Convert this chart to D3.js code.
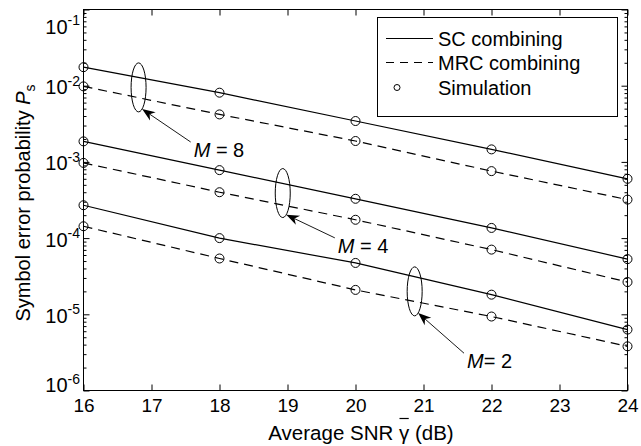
<!DOCTYPE html>
<html>
<head>
<meta charset="utf-8">
<script src="https://cdn.jsdelivr.net/npm/d3@7"></script>
<style>
  body { margin: 0; background: #fff; }
  svg { display: block; }
  text { font-family: "Liberation Sans", Arial, Helvetica, sans-serif; fill: #000; }
</style>
</head>
<body>
<div id="chart"></div>
<script>
// SNR points (dB)
const snr = [16, 18, 20, 22, 24];

// Symbol error probability
const scM8  = [1.75e-2, 8.1e-3, 3.44e-3, 1.46e-3, 6.0e-4];
const mrcM8 = [9.8e-3, 4.2e-3, 1.88e-3, 7.57e-4, 3.2e-4];
const scM4  = [1.86e-3, 7.8e-4, 3.28e-4, 1.36e-4, 5.3e-5];
const mrcM4 = [9.7e-4, 4.0e-4, 1.74e-4, 7.06e-5, 2.65e-5];
const scM2  = [2.7e-4, 1.0e-4, 4.72e-5, 1.81e-5, 6.3e-6];
const mrcM2 = [1.43e-4, 5.4e-5, 2.09e-5, 9.35e-6, 3.8e-6];

// axis ticks
const xTicks = [16, 17, 18, 19, 20, 21, 22, 23, 24];
const yDecades = [1e-6, 1e-5, 1e-4, 1e-3, 1e-2, 1e-1];
const yExponents = [-6, -5, -4, -3, -2, -1];

// legend entries
const legendLabels = ["SC combining", "MRC combining", "Simulation"];

// annotation labels: ellipse centre and label anchor in data units
const annLabels = ["8", "4", "2"];
const annEllipseX = [16.81, 18.93, 20.87];
const annEllipseY = [9.5e-3, 3.9e-4, 2.0e-5];
const annTextX = [17.62, 19.74, 21.64];
const annTextY = [1.16e-3, 6.4e-5, 1.96e-6];

const width = 641, height = 446;
const margin = { top: 9.5, right: 13.5, bottom: 55.5, left: 83.5 };

const svg = d3.select("#chart").append("svg")
    .attr("width", width)
    .attr("height", height);

const x = d3.scaleLinear()
    .domain([16, 24])
    .range([margin.left, width - margin.right]);

const y = d3.scaleLog()
    .domain([1e-6, 1e-1])
    .range([height - margin.bottom, margin.top]);

const x0 = x.range()[0], x1 = x.range()[1];
const yTop = y.range()[1], yBot = y.range()[0];

// minor log ticks (2..9 in each decade)
const minor = y.ticks().filter(t => !yDecades.some(d => Math.abs(d - t) / d < 1e-6));

// bottom axis with labels
svg.append("g")
    .attr("transform", `translate(0,${yBot})`)
    .call(d3.axisBottom(x).tickValues(xTicks).tickSize(-6).tickSizeOuter(0).tickPadding(8).tickFormat(d3.format("d")))
    .call(g => g.select(".domain").remove())
    .call(g => g.selectAll("line").attr("stroke", "#000"))
    .call(g => g.selectAll("text").style("font-size", "19px").attr("font-family", null));

// top axis ticks
svg.append("g")
    .attr("transform", `translate(0,${yTop})`)
    .call(d3.axisTop(x).tickValues(xTicks).tickSize(-6).tickSizeOuter(0).tickFormat(""))
    .call(g => g.select(".domain").remove())
    .call(g => g.selectAll("line").attr("stroke", "#000"));

// left / right ticks, major and minor
[[x0, d3.axisLeft], [x1, d3.axisRight]].forEach(([pos, axisFn]) => {
    svg.append("g")
        .attr("transform", `translate(${pos},0)`)
        .call(axisFn(y).tickValues(yDecades).tickSize(-6).tickSizeOuter(0).tickFormat(""))
        .call(g => g.select(".domain").remove())
        .call(g => g.selectAll("line").attr("stroke", "#000"));
    svg.append("g")
        .attr("transform", `translate(${pos},0)`)
        .call(axisFn(y).tickValues(minor).tickSize(-3).tickSizeOuter(0).tickFormat(""))
        .call(g => g.select(".domain").remove())
        .call(g => g.selectAll("line").attr("stroke", "#000"));
});

// y tick labels 10^n (end labels are pushed inside the axis range, like MATLAB)
yDecades.forEach((d, i) => {
    const cy = Math.min(Math.max(y(d) + 1.5, yTop + 17), yBot - 5.5);
    const t = svg.append("text")
        .attr("x", 80)
        .attr("y", cy + 7)
        .attr("text-anchor", "end")
        .style("font-size", "20px");
    t.append("tspan").text("10");
    t.append("tspan").attr("dy", -8.5).style("font-size", "14px").text(yExponents[i]);
});

// axes box
svg.append("rect")
    .attr("x", x0).attr("y", yTop)
    .attr("width", x1 - x0).attr("height", yBot - yTop)
    .attr("fill", "none").attr("stroke", "#000").attr("stroke-width", 1);

// curves
const line = d3.line()
    .x((d, i) => x(snr[i]))
    .y(d => y(d));

const series = [
    { values: scM8, dash: null },
    { values: mrcM8, dash: "9,6" },
    { values: scM4, dash: null },
    { values: mrcM4, dash: "9,6" },
    { values: scM2, dash: null },
    { values: mrcM2, dash: "9,6" }
];

series.forEach(s => {
    svg.append("path")
        .datum(s.values)
        .attr("fill", "none")
        .attr("stroke", "#000")
        .attr("stroke-width", 1.2)
        .attr("stroke-dasharray", s.dash)
        .attr("d", line);

    svg.selectAll(null)
        .data(s.values)
        .enter().append("circle")
        .attr("cx", (d, i) => x(snr[i]))
        .attr("cy", d => y(d))
        .attr("r", 4.5)
        .attr("fill", "none")
        .attr("stroke", "#000")
        .attr("stroke-width", 1);
});

// annotations: ellipse, arrow, M = k
const rx = 7.5, ry = 24.5;
annLabels.forEach((lab, i) => {
    const cx = x(annEllipseX[i]), cy = y(annEllipseY[i]);
    svg.append("ellipse")
        .attr("cx", cx).attr("cy", cy)
        .attr("rx", rx).attr("ry", ry)
        .attr("fill", "none").attr("stroke", "#000").attr("stroke-width", 1);

    const tx = x(annTextX[i]), ty = y(annTextY[i]);
    const ang = 62 * Math.PI / 180;
    const tip = [cx + rx * Math.cos(ang), cy + ry * Math.sin(ang)];
    const tail = [tx - 3, ty - 15];
    const dx = tip[0] - tail[0], dy = tip[1] - tail[1];
    const len = Math.hypot(dx, dy);
    const ux = dx / len, uy = dy / len;
    const px = -uy, py = ux;
    const hl = 13, hw = 5;
    const base = [tip[0] - ux * hl, tip[1] - uy * hl];
    const notch = [tip[0] - ux * hl * 0.7, tip[1] - uy * hl * 0.7];

    svg.append("line")
        .attr("x1", tail[0]).attr("y1", tail[1])
        .attr("x2", notch[0]).attr("y2", notch[1])
        .attr("stroke", "#000").attr("stroke-width", 0.9);

    svg.append("path")
        .attr("d", d3.line()([
            tip,
            [base[0] + px * hw, base[1] + py * hw],
            notch,
            [base[0] - px * hw, base[1] - py * hw]
        ]) + "Z")
        .attr("fill", "#000");

    const t = svg.append("text")
        .attr("x", tx).attr("y", ty)
        .style("font-size", "20px");
    t.append("tspan").style("font-style", "italic").text("M");
    t.append("tspan").text(i === 2 ? "= " + lab : " = " + lab);
});

// legend
const lg = svg.append("g");
lg.append("rect")
    .attr("x", 377.5).attr("y", 17.5)
    .attr("width", 240).attr("height", 99)
    .attr("fill", "#fff").attr("stroke", "#000").attr("stroke-width", 1);

const legendRowY = [38.5, 62.5, 87.5];
lg.append("line")
    .attr("x1", 386).attr("x2", 433)
    .attr("y1", legendRowY[0]).attr("y2", legendRowY[0])
    .attr("stroke", "#000").attr("stroke-width", 1.2);
lg.append("line")
    .attr("x1", 386).attr("x2", 433)
    .attr("y1", legendRowY[1]).attr("y2", legendRowY[1])
    .attr("stroke", "#000").attr("stroke-width", 1.2)
    .attr("stroke-dasharray", "8,6");
lg.append("circle")
    .attr("cx", 397).attr("cy", legendRowY[2])
    .attr("r", 3)
    .attr("fill", "none").attr("stroke", "#000").attr("stroke-width", 1);

legendLabels.forEach((lab, i) => {
    lg.append("text")
        .attr("x", 438)
        .attr("y", legendRowY[i] + 7)
        .style("font-size", "20px")
        .text(lab);
});

// x axis title with overlined gamma
const xt = svg.append("text")
    .attr("x", 361)
    .attr("y", 440)
    .attr("text-anchor", "middle")
    .style("font-size", "20.5px");
xt.append("tspan").text("Average SNR ");
xt.append("tspan").text("\u03B3");
xt.append("tspan").text(" (dB)");
const gIdx = "Average SNR ".length;
const ext = xt.node().getExtentOfChar(gIdx);
svg.append("line")
    .attr("x1", ext.x + 0.5).attr("x2", ext.x + ext.width - 0.5)
    .attr("y1", 418.5).attr("y2", 418.5)
    .attr("stroke", "#000").attr("stroke-width", 1.2);

// y axis title
const ytl = svg.append("text")
    .attr("transform", "translate(29.5,203) rotate(-90)")
    .attr("text-anchor", "middle")
    .style("font-size", "20px");
ytl.append("tspan").text("Symbol error probability ");
ytl.append("tspan").style("font-style", "italic").text("P");
ytl.append("tspan").attr("dy", 5).style("font-size", "14px").text("s");
</script>
</body>
</html>
